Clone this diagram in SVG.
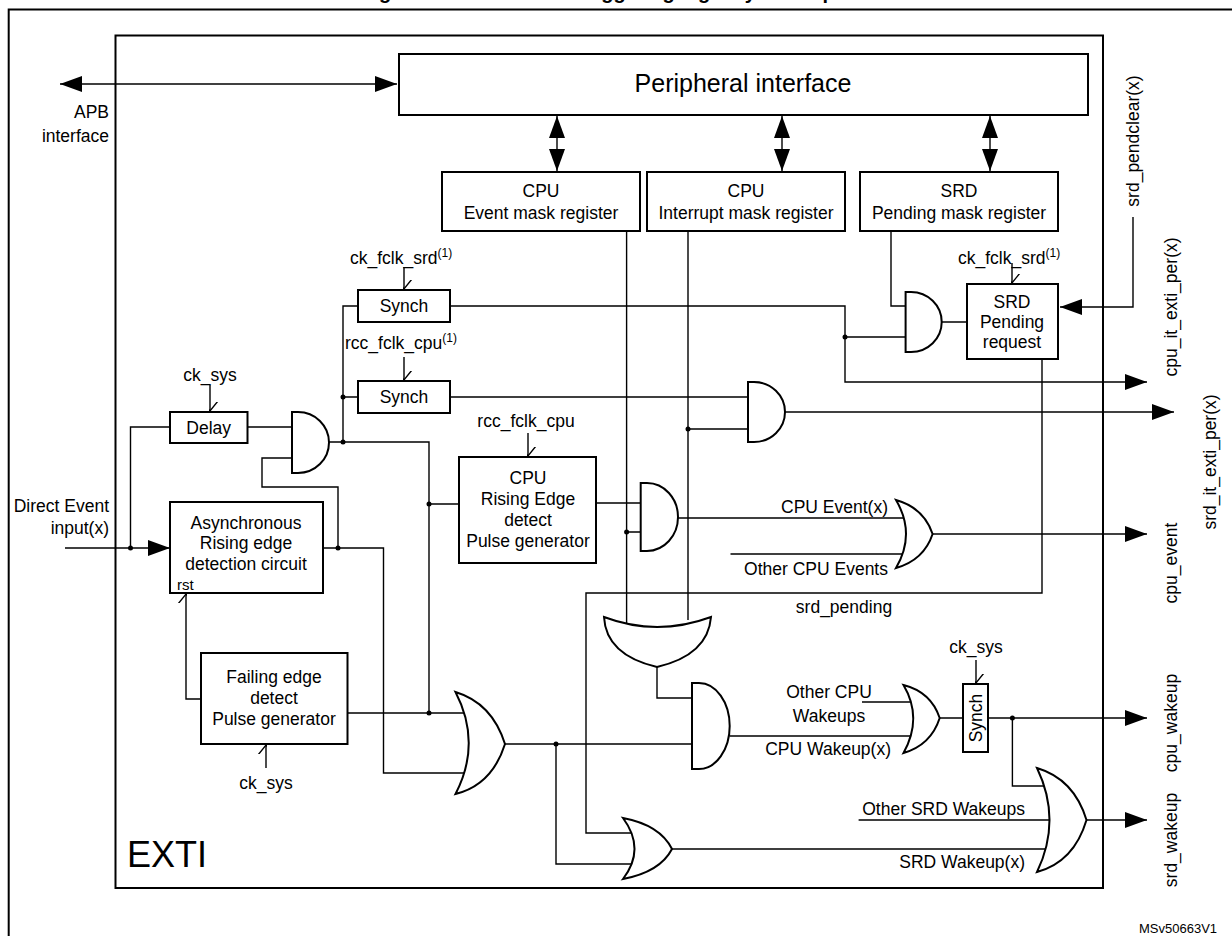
<svg xmlns="http://www.w3.org/2000/svg" width="1232" height="936" viewBox="0 0 1232 936">
<style>
text{font-family:"Liberation Sans",Arial,sans-serif;font-size:17.5px;fill:#000}
.m{text-anchor:middle}.e{text-anchor:end}
.w{stroke:#000;stroke-width:1.4;fill:none}
.b{stroke:#000;stroke-width:2;fill:#fff}
.g{stroke:#000;stroke-width:2;fill:#fff}
.fa{marker-end:url(#fa)}
</style>
<defs>
<marker id="fa" viewBox="0 0 22 16" refX="22" refY="8" markerWidth="22" markerHeight="16" markerUnits="userSpaceOnUse" orient="auto-start-reverse"><path d="M0,0L22,8L0,16z" fill="#000"/></marker>
<marker id="ov" viewBox="-9 -12 18 13" refX="0" refY="0" markerWidth="18" markerHeight="13" markerUnits="userSpaceOnUse" orient="auto-start-reverse"><path d="M-8,-10L0,0L8,-10" transform="rotate(-90)" fill="none" stroke="#000" stroke-width="1.4"/></marker>
</defs>
<text x="598" y="-1" class="m" style="font-weight:bold;font-size:20px">Figure 83. Direct event triggering logic by wakeup</text>
<path d="M1240,9.5H8.7V940" class="w" style="stroke-width:2"/>
<g id="exti"><rect x="115.5" y="35.5" width="987.5" height="852.5" fill="none" stroke="#000" stroke-width="2"/><text x="127" y="867" style="font-size:36px">EXTI</text></g>

<g id="connectors">
<path d="M60,84H397" class="w" marker-start="url(#fa)" marker-end="url(#fa)"/>
<path d="M557,116V171" class="w" marker-start="url(#fa)" marker-end="url(#fa)"/>
<path d="M782,116V171" class="w" marker-start="url(#fa)" marker-end="url(#fa)"/>
<path d="M990,116V171" class="w" marker-start="url(#fa)" marker-end="url(#fa)"/>
<path d="M404,267V289" class="w" marker-end="url(#ov)"/>
<path d="M404,357V380" class="w" marker-end="url(#ov)"/>
<path d="M210,385V411" class="w" marker-end="url(#ov)"/>
<path d="M528,433V456" class="w" marker-end="url(#ov)"/>
<path d="M201,699H186V594" class="w" marker-end="url(#ov)"/>
<path d="M266,768V745" class="w" marker-end="url(#ov)"/>
<path d="M1012,263V283" class="w" marker-end="url(#ov)"/>
<path d="M976,660V683" class="w" marker-end="url(#ov)"/>
<path d="M358,306H343V442M329,442H429V713M343,397H358M170,427H130.5V548M247.5,427H292M292,458H262V487H338V548" class="w"/>
<path d="M65,548H170" class="w fa"/>
<path d="M323,548H383.5V773H466M347.5,713H466M429,504H459M505,744H692M556,744V864H634M596,503H641M626.6,231V623M626.6,532H641M688,231V620M688,429H748" class="w"/>
<path d="M678,518H905M730.5,554H905" class="w"/>
<path d="M932.6,534H1147" class="w fa"/>
<path d="M450,306H845V382H1147" class="w fa"/>
<path d="M845,337H906M891,231V306H906M941.7,322H967" class="w"/>
<path d="M1133,217V307H1060" class="w fa"/>
<path d="M1042,359V593H586V833H634M450,397H748M657,667V698H692" class="w"/>
<path d="M785,412H1174" class="w fa"/>
<path d="M729.7,736H910M862,702H910M939.7,718H963" class="w"/>
<path d="M988,718H1147" class="w fa"/>
<path d="M1012.4,718V786H1050M858.6,820H1053M672,849H1050" class="w"/>
<path d="M1086.5,820H1147" class="w fa"/>
<g fill="#000"><circle cx="343" cy="397" r="2.5"/><circle cx="343" cy="442" r="2.5"/><circle cx="130.5" cy="548" r="2.5"/><circle cx="338" cy="548" r="2.5"/><circle cx="429" cy="504" r="2.5"/><circle cx="429" cy="713" r="2.5"/><circle cx="556" cy="744" r="2.5"/><circle cx="626.6" cy="532" r="2.5"/><circle cx="688" cy="429" r="2.5"/><circle cx="845" cy="337" r="2.5"/><circle cx="1012.4" cy="718" r="2.5"/></g>
</g>

<g id="periph"><rect x="399" y="54" width="689" height="61" class="b"/><text x="743" y="92" class="m" style="font-size:25px">Peripheral interface</text></g>
<g id="evmask"><rect x="442" y="172" width="198" height="59" class="b"/><text x="541" y="197" class="m">CPU</text><text x="541" y="219" class="m">Event mask register</text></g>
<g id="itmask"><rect x="647" y="172" width="198" height="59" class="b"/><text x="746" y="197" class="m">CPU</text><text x="746" y="219" class="m">Interrupt mask register</text></g>
<g id="srdmask"><rect x="860" y="172" width="198" height="59" class="b"/><text x="959" y="197" class="m">SRD</text><text x="959" y="219" class="m">Pending mask register</text></g>
<g id="synch1"><rect x="358" y="290" width="92" height="32" class="b"/><text x="404" y="312" class="m">Synch</text></g>
<g id="synch2"><rect x="358" y="381" width="92" height="32" class="b"/><text x="404" y="403" class="m">Synch</text></g>
<g id="delay"><rect x="170" y="412" width="77.5" height="31" class="b"/><text x="208.7" y="434" class="m">Delay</text></g>
<g id="async"><rect x="170" y="502" width="153" height="91" class="b"/><text x="246" y="529" class="m">Asynchronous</text><text x="246" y="549" class="m">Rising edge</text><text x="246" y="570" class="m">detection circuit</text><text x="177" y="590" style="font-size:15px">rst</text></g>
<g id="falling"><rect x="201" y="653" width="146.5" height="91" class="b"/><text x="274" y="683" class="m">Failing edge</text><text x="274" y="704" class="m">detect</text><text x="274" y="725" class="m">Pulse generator</text></g>
<g id="cpurise"><rect x="459" y="457" width="137" height="106" class="b"/><text x="528" y="484" class="m">CPU</text><text x="528" y="505" class="m">Rising Edge</text><text x="528" y="526" class="m">detect</text><text x="528" y="547" class="m">Pulse generator</text></g>
<g id="srdpend"><rect x="967" y="284" width="91" height="75" class="b"/><text x="1012" y="308" class="m">SRD</text><text x="1012" y="328" class="m">Pending</text><text x="1012" y="348" class="m">request</text></g>
<g id="synch3"><rect x="963" y="684" width="25" height="68" class="b"/><text transform="translate(982,718) rotate(-90)" class="m">Synch</text></g>

<g id="and1"><path d="M292,412H298A31,30.5 0 0 1 298,473H292Z" class="g"/></g>
<g id="and2"><path d="M905.6,292H911A30.7,30 0 0 1 911,352H905.6Z" class="g"/></g>
<g id="and3"><path d="M748,382H754A31,30 0 0 1 754,442H748Z" class="g"/></g>
<g id="and4"><path d="M640.7,483H647A31,34 0 0 1 647,551H640.7Z" class="g"/></g>
<g id="and5"><path d="M692,683H699A30.7,43 0 0 1 699,769H692Z" class="g"/></g>
<g id="or1"><path d="M455.5,692Q482,743 455.5,794Q492,785 505,744Q492,703 455.5,692Z" class="g"/></g>
<g id="or2"><path d="M896,500Q916,534 896,568Q924,560 932.6,534Q924,508 896,500Z" class="g"/></g>
<g id="or3"><path d="M903.5,685Q923,718 903.5,753Q931,745 939.7,718Q931,692 903.5,685Z" class="g"/></g>
<g id="or4"><path d="M1037,768Q1062,820 1037,872Q1074,862 1086.5,820Q1074,779 1037,768Z" class="g"/></g>
<g id="or5"><path d="M623,818Q646,849 623,879Q660,872 672,849Q660,825 623,818Z" class="g"/></g>
<g id="or6"><path d="M604,617Q657,637 711,617Q708,655 657,667Q606,655 604,617Z" class="g"/></g>

<g id="labels">
<text x="109" y="118" class="e">APB</text><text x="109" y="142" class="e">interface</text>
<text x="350" y="264">ck_fclk_srd<tspan dy="-7" style="font-size:12px">(1)</tspan></text>
<text x="345" y="349">rcc_fclk_cpu<tspan dy="-7" style="font-size:12px">(1)</tspan></text>
<text x="210" y="381" class="m">ck_sys</text>
<text x="526" y="427" class="m">rcc_fclk_cpu</text>
<text x="109" y="512" class="e">Direct Event</text><text x="109" y="534" class="e">input(x)</text>
<text x="266" y="789" class="m">ck_sys</text>
<text x="958" y="264">ck_fclk_srd<tspan dy="-7" style="font-size:12px">(1)</tspan></text>
<text x="888" y="513" class="e">CPU Event(x)</text>
<text x="888" y="575" class="e">Other CPU Events</text>
<text x="844" y="613" class="m">srd_pending</text>
<text x="976" y="653" class="m">ck_sys</text>
<text x="829" y="698" class="m">Other CPU</text><text x="829" y="722" class="m">Wakeups</text>
<text x="891" y="755" class="e">CPU Wakeup(x)</text>
<text x="1025" y="815" class="e">Other SRD Wakeups</text>
<text x="1025" y="868" class="e">SRD Wakeup(x)</text>
<text transform="translate(1139,141) rotate(-90)" class="m">srd_pendclear(x)</text>
<text transform="translate(1177,307) rotate(-90)" class="m">cpu_it_exti_per(x)</text>
<text transform="translate(1216,462) rotate(-90)" class="m">srd_it_exti_per(x)</text>
<text transform="translate(1177,563) rotate(-90)" class="m">cpu_event</text>
<text transform="translate(1177,723) rotate(-90)" class="m">cpu_wakeup</text>
<text transform="translate(1177,840) rotate(-90)" class="m">srd_wakeup</text>
<text x="1139" y="933" style="font-size:13px">MSv50663V1</text>
</g>
</svg>
